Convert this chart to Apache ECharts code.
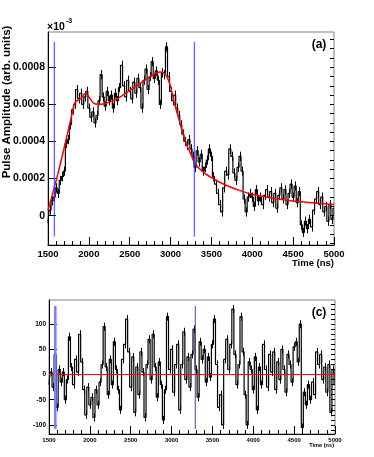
<!DOCTYPE html>
<html>
<head>
<meta charset="utf-8">
<script src="https://cdn.jsdelivr.net/npm/echarts@6/dist/echarts.min.js"></script>
<style>
  html, body { margin: 0; padding: 0; background: #fff; }
  #main { width: 374px; height: 457px; }
</style>
</head>
<body>
<div id="main"></div>
<script>
// time bins (ns), bin centres = binStart + i * binWidth
var binStart = 1500
var binWidth = 25

// panel (a): pulse amplitude per bin, in units of 1e-4
var amplitudeE4 = [
  -0.4, 0.3, 0.8, 1.0, 1.5, 1.2, 1.9, 2.1,
  2.4, 3.9, 4.1, 4.9, 5.7, 6.0, 6.8, 6.3,
  6.6, 6.0, 6.4, 6.7, 5.8, 5.3, 5.6, 5.0,
  5.4, 6.2, 7.6, 6.4, 5.9, 6.7, 6.2, 6.5,
  5.8, 6.6, 6.2, 6.9, 8.1, 7.0, 6.4, 7.3,
  6.7, 6.3, 7.2, 6.6, 7.4, 6.9, 5.8, 7.3,
  7.9, 6.8, 7.5, 8.3, 7.4, 7.8, 7.3, 6.0,
  7.7, 7.6, 9.1, 7.5, 6.7, 6.2, 6.5, 5.8,
  5.4, 4.9, 4.4, 4.0, 3.8, 4.1, 3.6, 3.2,
  2.6, 3.5, 2.9, 3.3, 2.4, 2.6, 3.0, 3.6,
  3.2, 2.1, 1.7, 1.2, 0.6, 0.2, 1.5, 2.4,
  2.2, 3.6, 3.2, 2.3, 1.9, 2.6, 3.2, 2.4,
  0.9, 0.2, 1.0, 1.2, 1.0, 0.5, 1.4, 0.8,
  1.0, 0.6, 1.1, 1.4, 1.0, 1.3, 0.7, 1.2,
  0.4, 1.1, 1.5, 0.9, 1.4, 0.6, 1.2, 1.7,
  1.0, 1.6, 0.7, 1.3, -0.5, -0.9, -0.3, -0.7,
  -0.2, -0.6, 0.3, 0.9, 1.3, 0.6, 1.0, 0.2,
  0.5, -0.3, 0.6, -0.2, 0.4
]
var amplitudeErrE4 = 0.25

// panel (a): fitted pulse shape (red), units of 1e-4
var fitTimes = [1500, 1600, 1700, 1800, 1830, 1900, 1960, 2000, 2060, 2120, 2200, 2300,
  2400, 2500, 2600, 2700, 2800, 2870, 2930, 2990, 3050, 3115, 3180, 3240, 3300,
  3400, 3500, 3600, 3700, 3850, 4000, 4200, 4400, 4600, 4800, 5000]
var fitValuesE4 = [0.3, 1.9, 3.7, 5.6, 6.1, 6.3, 6.6, 6.4, 6.05, 6.0, 6.05, 6.2,
  6.45, 6.75, 7.05, 7.35, 7.65, 7.75, 7.65, 7.1, 6.0, 5.0, 4.0, 3.4, 2.8,
  2.35, 2.05, 1.8, 1.6, 1.35, 1.15, 0.98, 0.85, 0.75, 0.67, 0.6]

// panel (c): residuals per bin
var residuals = [
  -20, 5, -25, 40, -65, 10, -15, 5,
  -50, -10, 75, 15, -20, 30, 5, 80,
  25, -30, -80, -25, -60, -45, -85, -30,
  -60, -15, 20, 95, 15, -40, 30, -20,
  65, 10, -30, -70, 30, 60, 110, 45,
  -25, 35, -75, 15, -40, 45, 5, -85,
  20, 70, -10, 80, 15, -45, 25, -20,
  -90, -30, 115, 10, 50, -35, 20, 60,
  -70, 20, 85, -10, 35, -25, 40, 90,
  10, -45, 65, 30, 50, -15, 35, -5,
  60, 110, 20, -65, -40, -100, 30, 70,
  10, 60, 130, 40, -20, 20, 115, 45,
  -40, -100, 25, 10, -30, 35, -70, 15,
  -20, 60, 10, -25, 40, 5, 45, -30,
  25, -10, 50, 10, -35, 40, 20, -15,
  55, 65, 25, 100, -105, -35, -60, -20,
  -50, -15, -40, 45, 20, 40, -10, 15,
  -35, 20, -75, 10, -20
]
var residualErr = 8
var zeroLineTimes = [1500, 5000]

// blue marker lines
var markerTimes = [1577, 3290]
var markerRangeA = [-0.000113, 0.000938]
var markerRangeC = [-108, 136]

// tick values
var ampMajorTicks = [0, 0.0002, 0.0004, 0.0006, 0.0008]
var ampMinorTicks = [-0.00015, -0.0001, -0.00005, 0, 0.00005, 0.0001, 0.00015, 0.0002,
  0.00025, 0.0003, 0.00035, 0.0004, 0.00045, 0.0005, 0.00055, 0.0006, 0.00065,
  0.0007, 0.00075, 0.0008, 0.00085, 0.0009, 0.00095]
var resMajorTicks = [-100, -50, 0, 50, 100]
var resMinorTicks = [-110, -100, -90, -80, -70, -60, -50, -40, -30, -20, -10, 0,
  10, 20, 30, 40, 50, 60, 70, 80, 90, 100, 110, 120, 130, 140]

var FONT = 'Liberation Sans'

function binTime(i) {
  return binStart + i * binWidth
}

var ampData = amplitudeE4.map(function (v, i) { return [binTime(i), v * 1e-4] })
var ampErrData = amplitudeE4.map(function (v, i) { return [binTime(i), v * 1e-4, amplitudeErrE4 * 1e-4] })
var fitData = fitTimes.map(function (t, i) { return [t, fitValuesE4[i] * 1e-4] })
var resData = residuals.map(function (v, i) { return [binTime(i), v] })
var resErrData = residuals.map(function (v, i) { return [binTime(i), v, residualErr] })

// vertical error bar, snapped to the pixel grid so it stays black
function errBar(params, api) {
  var x = api.value(0), y = api.value(1), e = api.value(2)
  var a = api.coord([x, y - e])
  var b = api.coord([x, y + e])
  var px = Math.round(a[0]) + 0.5
  return {
    type: 'line',
    shape: { x1: px, y1: a[1], x2: px, y2: b[1] },
    style: { stroke: '#000', lineWidth: 1 }
  }
}

function timeAxis(gridIndex, fontSize, bold, margin) {
  return {
    gridIndex: gridIndex,
    type: 'value',
    min: 1500,
    max: 5000,
    interval: 500,
    axisLine: { onZero: false, lineStyle: { color: '#000', width: 1 } },
    axisTick: { inside: true, length: 8, lineStyle: { color: '#000' } },
    minorTick: { show: true, splitNumber: 5, length: 4, lineStyle: { color: '#000' } },
    splitLine: { show: false },
    axisLabel: {
      color: '#000', fontFamily: FONT, fontSize: fontSize,
      fontWeight: bold ? 'bold' : 'normal', margin: margin,
      formatter: function (v) { return String(v) }
    }
  }
}

function valueAxis(gridIndex, min, max, ticks, fontSize, bold, margin, tickLen) {
  return {
    gridIndex: gridIndex,
    type: 'value',
    min: min,
    max: max,
    axisLine: { onZero: false, lineStyle: { color: '#000', width: 1 } },
    axisTick: { inside: true, length: tickLen, customValues: ticks, lineStyle: { color: '#000' } },
    splitLine: { show: false },
    axisLabel: {
      customValues: ticks, color: '#000', fontFamily: FONT, fontSize: fontSize,
      fontWeight: bold ? 'bold' : 'normal', margin: margin,
      formatter: function (v) { return String(v) }
    }
  }
}

function minorAxis(gridIndex, min, max, ticks, tickLen) {
  return {
    gridIndex: gridIndex,
    type: 'value',
    min: min,
    max: max,
    axisLine: { show: false, onZero: false },
    axisTick: { inside: true, length: tickLen, customValues: ticks, lineStyle: { color: '#000' } },
    axisLabel: { show: false },
    splitLine: { show: false }
  }
}

var markerSeries = []
markerTimes.forEach(function (t, k) {
  markerSeries.push({
    type: 'line', xAxisIndex: 0, yAxisIndex: 0, symbol: 'none',
    data: [[t, markerRangeA[0]], [t, markerRangeA[1]]],
    lineStyle: { color: '#3b3bff', width: 1 }, z: 5
  })
  markerSeries.push({
    type: 'line', xAxisIndex: 1, yAxisIndex: 2, symbol: 'none',
    data: [[t, markerRangeC[0]], [t, markerRangeC[1]]],
    lineStyle: k === 0 ? { color: '#7d7dff', width: 2.5 } : { color: '#3b3bff', width: 1 }, z: 5
  })
})

var chart = echarts.init(document.getElementById('main'))
chart.setOption({
  animation: false,
  backgroundColor: '#fff',
  grid: [
    { left: 48, top: 32, width: 286, height: 213, show: true, borderColor: '#808080', borderWidth: 1 },
    { left: 49, top: 300, width: 286, height: 134, show: true, borderColor: '#808080', borderWidth: 1 }
  ],
  xAxis: [
    timeAxis(0, 9.5, true, 4),
    timeAxis(1, 6, true, 3)
  ],
  yAxis: [
    valueAxis(0, -0.000158, 0.00099, ampMajorTicks, 10.5, true, 3, 8),
    minorAxis(0, -0.000158, 0.00099, ampMinorTicks, 4),
    valueAxis(1, -118, 148, resMajorTicks, 6.5, true, 3, 8),
    minorAxis(1, -118, 148, resMinorTicks, 4)
  ],
  graphic: [
    {
      type: 'text', x: 7, y: 102, rotation: Math.PI / 2,
      style: { text: 'Pulse Amplitude (arb. units)', font: 'bold 11.5px ' + FONT, fill: '#000',
        textAlign: 'center', textVerticalAlign: 'middle' }
    },
    { type: 'text', left: 47, top: 22, style: { text: '\u00d710', font: 'bold 10.5px ' + FONT, fill: '#000' } },
    { type: 'text', left: 66, top: 18, style: { text: '-3', font: 'bold 7px ' + FONT, fill: '#000' } },
    { type: 'text', x: 319, y: 45, style: { text: '(a)', font: 'bold 12px ' + FONT, fill: '#000', textAlign: 'center', textVerticalAlign: 'middle' } },
    { type: 'text', x: 334, y: 263, style: { text: 'Time (ns)', font: 'bold 9.5px ' + FONT, fill: '#000', textAlign: 'right', textVerticalAlign: 'middle' } },
    { type: 'text', x: 319, y: 313, style: { text: '(c)', font: 'bold 12px ' + FONT, fill: '#000', textAlign: 'center', textVerticalAlign: 'middle' } },
    { type: 'text', x: 334, y: 445, style: { text: 'Time (ns)', font: 'bold 5.6px ' + FONT, fill: '#000', textAlign: 'right', textVerticalAlign: 'middle' } }
  ],
  series: [
    {
      type: 'custom', xAxisIndex: 0, yAxisIndex: 0, renderItem: errBar,
      data: ampErrData, clip: true, z: 2
    },
    {
      type: 'line', xAxisIndex: 0, yAxisIndex: 0, step: 'middle', symbol: 'none',
      data: ampData, lineStyle: { color: '#000', width: 1.2 }, clip: true, z: 3
    },
    {
      type: 'line', xAxisIndex: 0, yAxisIndex: 0, symbol: 'none', smooth: 0.3,
      data: fitData, lineStyle: { color: '#ff0000', width: 1.5 }, z: 4
    },
    {
      type: 'custom', xAxisIndex: 1, yAxisIndex: 2, renderItem: errBar,
      data: resErrData, clip: true, z: 2
    },
    {
      type: 'line', xAxisIndex: 1, yAxisIndex: 2, step: 'middle', symbol: 'none',
      data: resData, lineStyle: { color: '#000', width: 1.2 }, clip: true, z: 3
    },
    {
      type: 'line', xAxisIndex: 1, yAxisIndex: 2, symbol: 'none',
      data: zeroLineTimes.map(function (t) { return [t, 0] }),
      lineStyle: { color: '#ff0000', width: 1 }, z: 4
    }
  ].concat(markerSeries)
})
</script>
</body>
</html>
